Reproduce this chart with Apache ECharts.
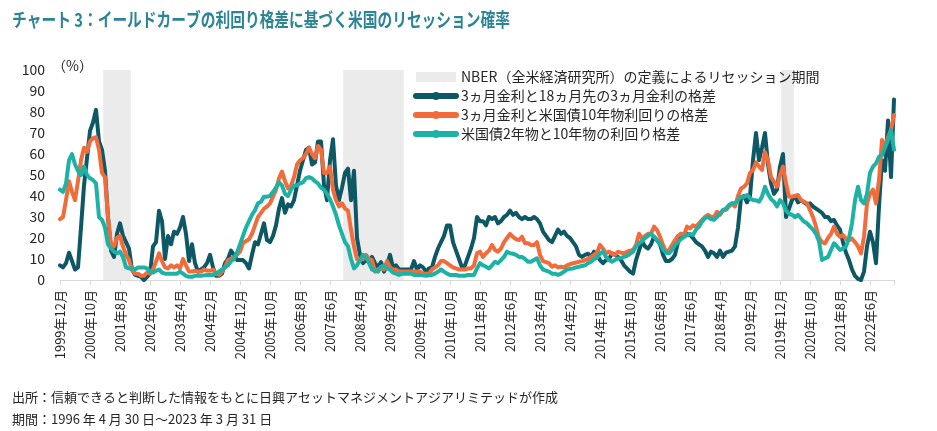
<!DOCTYPE html>
<html>
<head>
<meta charset="utf-8">
<script src="https://cdn.jsdelivr.net/npm/echarts@6/dist/echarts.min.js"></script>
<style>
html,body{margin:0;padding:0;background:#fff;}
#chart{width:937px;height:431px;}
</style>
</head>
<body>
<div id="chart"></div>
<script>
// ---- data (monthly, 1999年12月 .. 2023年2月) ----
const startYear = 1999, startMonth = 12, monthCount = 279;
const categories = [];
for (let k = 0; k < monthCount; k++) {
  const m0 = startMonth - 1 + k;
  categories.push((startYear + Math.floor(m0 / 12)) + '年' + (m0 % 12 + 1) + '月');
}

const seriesNames = [
  'NBER（全米経済研究所）の定義によるリセッション期間',
  '3ヵ月金利と18ヵ月先の3ヵ月金利の格差',
  '3ヵ月金利と米国債10年物利回りの格差',
  '米国債2年物と10年物の利回り格差'
];

// recession periods (first month, last month)
const recessions = [
  ['2001年3月', '2001年11月'],
  ['2007年11月', '2009年6月'],
  ['2020年1月', '2020年4月']
];

const forward18m = [
  7,6,8,13,9,5,6,25,45,58, 71,75,81,66,62,52,30,14,11,22,
  27,21,18,15,5,2.5,2,1.5,0,1.5, 3,16,18,33,28,10,21,17,23,22,
  25,30,22,9,17,8,4,5,6,8, 12,6,2,2,3,8,10,14,12,9.5,
  9.5,9.5,8,5.5,12,18,17,22,27,19, 18,21,26,34,39,32,36,35,38,45,
  52,57,62,63,55,56,66,66,45,38, 57,67,45,38,44,51,53,38,52,20,
  12,8,9.5,8.5,11,8,6,8.5,4,7, 12,6,7,5,5,5,5,5,9,5,
  7,6,4,5.5,6,11,15,18,21,26, 26,18,14,10,6,7,11,15,20,30,
  28,28,26,30,29,30,27,28,30,31, 33,31,32,30,29,30,29,29,30,29,
  27,23,21,19,18,21,24,22,23,21, 20,18,16,12,11,12,12.5,11,13.5,12,
  9.5,8,9.5,10,12.7,12,11,9.5,7,5.5, 4,3,9.5,14,18.5,16,15,17,20.6,19,
  17,12,9,9,10,12,18,22,21,22, 21.4,20,18,17,16,14,11,13.5,12.7,11,
  14,11,13,13.5,14,16,25,39,40,37, 40,57,70,57,63,70,55,46,41,43,
  54,60,30,34,38,40,37,38,37,36, 36.5,35,34,33,32,30,30,28,28.6,26,
  24,18,13,9.5,5,2,0.5,0,4,16, 23,18,8,35,57,52,76,49,86
];

const tenYear3m = [
  29,30,38,47,42,38,47,57,63,61, 66,67.5,68,62,51,49,30,17,16,20,
  21,16,12,9.5,5,3,3,2,2,3.5, 3,5,8.7,12.7,9,6,5.5,7,6,7,
  5.5,10,7,4,4,4.4,4,4,5,4.5, 4.4,5,3,2.4,4,6,9.5,10,11,12,
  13.5,17.6,18.5,19.4,22,26,30,32,34,35, 36.5,39.7,43,48.4,51.6,47,43.6,45,49,55,
  57,58,60,63,60,58,63.8,62,51,51, 54,43,38,35,36.5,34,33,24,16,10,
  9.5,10,12,10,9.5,4,5,6,5,9, 6,5,5,4,4,4,4,4,4,4,
  4,3,3,3,5,6,7,9,9,8, 7,6,5.5,5,5,5,5.5,5.5,7,12.7,
  13.5,11,12.7,14,16.7,14.3,13.5,15,18,20, 22,20.5,19.5,19,20.6,17.5,17.5,16.7,16.7,18,
  12,9,8.5,8,6.3,7,6,6.3,6,7, 7.5,8,8.3,8.7,9,9.5,10,11,12,13,
  16.7,15,12.7,13.5,12.5,12,13.5,13,12.7,13.5, 14,14.3,16.7,22,19.7,21,22,22,25.4,23.8,
  20.6,16.7,13.5,14.3,16.7,19,21,22,21.4,25.4, 24.6,26,25.4,27,28.6,30,31,30,30,32.5,
  31,33.3,33.3,35,36.5,35,40,43.6,44.4,46, 51,52.4,56,54,52.4,61,57,49,46.8,44.4,
  50,54,46,39.7,39.7,40,40.5,38,37.3,36.5, 33.3,30,25.4,20,18,17.5,20,22,25.4,22,
  20.6,21.4,19.5,19,19.7,18,16,12.7,20.6,36.5, 41,43,36.5,47.6,66.7,63.5,68,71.4,78.6
];

const tenYear2y = [
  43,42,46,57,60,55,52,50,54,50, 48.4,47.6,46,30,28.6,25,17,15,13.5,12.7,
  13.5,11,6,5.5,5.5,5,6,6,6,5.5, 4,3.5,4.4,5,3.5,3,3,3,3,3,
  4,3,2,1.5,1.5,2,2,2,2.2,2.4, 2.4,2.4,3,4,5,6,7,9,10,13,
  17,21,25,28,31,33.3,36.5,37.3,39.7,39.7, 40,42,44,46.5,45,41,40,43,45,45,
  46,46.5,48.5,49,48.4,47,46,44,42.9,41, 38.5,35,31,26,22,18,16,10,5.5,7,
  9.5,12,11,8,5,4.5,4,6.3,7,5.5, 5,3.5,3,2.4,3,3,3,3,2.4,2.4,
  2.4,2.2,2,2.2,2.4,3,4,5,4,3, 2.4,2.4,2.4,2,2,2,2.4,2.4,2.4,5.5,
  8,7,6.3,5.5,7,8.7,8,9.5,11,13.5, 12.7,12.5,12,11,11,10,8.7,8.7,9.5,10.3,
  7,5,4.5,4,3,3,2.4,3,4,5, 5.3,5.5,6,6.3,6.7,7,8,8.7,10,10.5,
  12.7,13.5,11,9.5,8.7,9.5,10.3,10.5,11,11.5, 12.5,13.5,16,17.5,18.5,20,21,22,20.6,19,
  17.5,14.5,13,12.7,14.3,16.7,18,19.5,20.5,21.4, 22,21.4,24,25.4,27.8,29.4,30,29,28.6,30,
  31.7,33.3,34,35.7,36.5,36.5,38,39.7,39.7,40.5, 39,38,38,37.3,39.7,44.4,41,38.6,37.3,35,
  38,36.5,33,31.7,31,30,31,29.4,27.8,27, 25.4,24,22,18.5,9.5,10.3,11,14.3,17.5,16,
  14.3,15,16,20,27,38,44.4,38,36.5,41, 51,54,55.5,58.7,59.5,63,66.7,71.4,62
];

const yTicks = { min: 0, max: 100, interval: 10 };
const labelEvery = 10;

const colors = {
  nber: '#ebebeb',
  dark: '#0d5864',
  orange: '#f26b3a',
  teal: '#1cb2a5',
  title: '#2b8595',
  text: '#262626'
};

// recession band values: full height in recession months, empty elsewhere
const recessionBand = categories.map(() => null);
recessions.forEach(r => {
  const a = categories.indexOf(r[0]), b = categories.indexOf(r[1]);
  for (let k = a; k <= b; k++) recessionBand[k] = yTicks.max;
});

// ---- chart ----
const chart = echarts.init(document.getElementById('chart'), null, { renderer: 'canvas' });
const FONT = '"Noto Sans CJK JP", "Noto Sans", sans-serif';

function lineSeries(name, data, color, z) {
  return {
    name: name, type: 'line', data: data, symbol: 'none', z: z,
    lineStyle: { width: 4, color: color, cap: 'round', join: 'round' },
    itemStyle: { color: color },
    emphasis: { disabled: true }, animation: false
  };
}

const option = {
  animation: false,
  textStyle: { fontFamily: FONT },
  grid: { left: 60, right: 43, top: 70, bottom: 151, containLabel: false },
  legend: {
    orient: 'vertical', left: 408, top: 65,
    itemWidth: 40, itemHeight: 10, itemGap: 5,
    textStyle: { fontSize: 14, color: colors.text, fontFamily: FONT },
    lineStyle: { width: 6, cap: 'round' },
    data: [
      { name: seriesNames[0], icon: 'rect' },
      { name: seriesNames[1] },
      { name: seriesNames[2] },
      { name: seriesNames[3] }
    ],
    selectedMode: false
  },
  graphic: [
    { type: 'text', x: 12, y: 10, scaleX: 0.775, style: { text: 'チャート 3：イールドカーブの利回り格差に基づく米国のリセッション確率', fontSize: 19, fontWeight: 'bold', fill: colors.title, fontFamily: FONT } },
    { type: 'text', x: 52, y: 59, style: { text: '（%）', fontSize: 14, fill: colors.text, fontFamily: FONT } },
    { type: 'text', x: 12, y: 391, style: { text: '出所：信頼できると判断した情報をもとに日興アセットマネジメントアジアリミテッドが作成', fontSize: 13, fill: colors.text, fontFamily: FONT } },
    { type: 'text', x: 12, y: 413, style: { text: '期間：1996 年 4 月 30 日～2023 年 3 月 31 日', fontSize: 13, fill: colors.text, fontFamily: FONT } }
  ],
  xAxis: {
    type: 'category', data: categories, boundaryGap: false,
    axisLine: { lineStyle: { color: '#d9d9d9', width: 1 } },
    axisTick: { show: true, length: 5, lineStyle: { color: '#d9d9d9' },
      interval: function (idx) { return idx % labelEvery === 0 || idx === categories.length - 1; } },
    axisLabel: { interval: labelEvery - 1, rotate: 90, fontSize: 13, color: colors.text, margin: 10, fontFamily: FONT },
    splitLine: { show: false }
  },
  yAxis: {
    type: 'value', min: yTicks.min, max: yTicks.max, interval: yTicks.interval,
    axisLine: { show: false }, axisTick: { show: false }, splitLine: { show: false },
    axisLabel: { fontSize: 14, color: colors.text, margin: 15, fontFamily: FONT }
  },
  series: [
    {
      name: seriesNames[0], type: 'bar', data: recessionBand, z: 1,
      barWidth: 3.6, silent: true,
      itemStyle: { color: colors.nber },
      emphasis: { disabled: true }
    },
    lineSeries(seriesNames[1], forward18m, colors.dark, 2),
    lineSeries(seriesNames[2], tenYear3m, colors.orange, 3),
    lineSeries(seriesNames[3], tenYear2y, colors.teal, 4)
  ]
};
chart.setOption(option);
</script>
</body>
</html>
